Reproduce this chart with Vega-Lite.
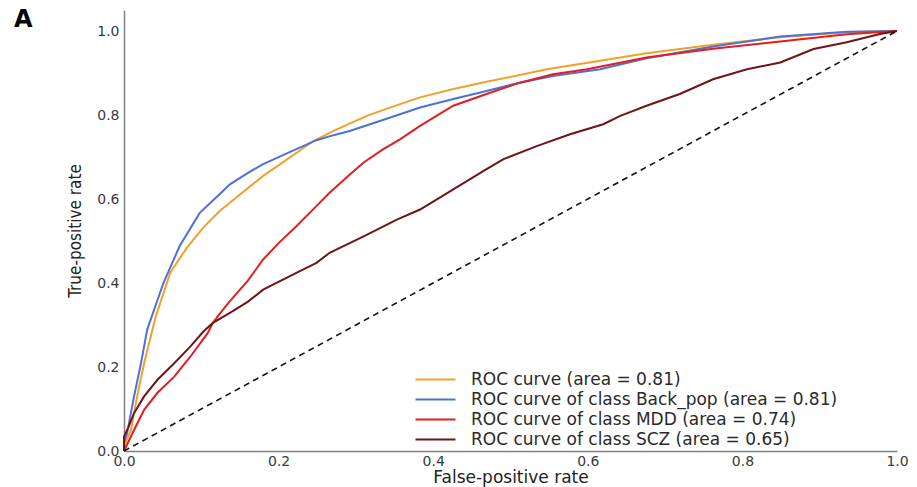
{
  "$schema": "https://vega.github.io/schema/vega-lite/v6.json",
  "width": 773,
  "height": 441,
  "autosize": {"type": "none"},
  "padding": {"left": 124, "top": 10, "right": 20, "bottom": 36},
  "background": "white",
  "title": {
    "text": "A",
    "anchor": "start",
    "frame": "group",
    "orient": "top",
    "offset": 0,
    "baseline": "top",
    "dx": -110,
    "dy": 22,
    "font": "DejaVu Sans",
    "fontSize": 24,
    "fontWeight": "bold",
    "color": "#000000"
  },
  "config": {
    "view": {"stroke": null},
    "axis": {
      "grid": false,
      "ticks": false,
      "tickSize": 0,
      "domainColor": "#808080",
      "domainWidth": 1.5,
      "labelFont": "DejaVu Sans",
      "labelFontSize": 14,
      "labelColor": "#3a3a3a",
      "labelFlush": false,
      "labelOverlap": false,
      "labelBound": false,
      "titleFontWeight": "normal",
      "titleColor": "#222222"
    }
  },
  "datasets": {
    "roc": [
      {"curve": "ROC curve (area = 0.81)", "fpr": 0.0, "tpr": 0.0},
      {"curve": "ROC curve (area = 0.81)", "fpr": 0.002, "tpr": 0.02},
      {"curve": "ROC curve (area = 0.81)", "fpr": 0.009, "tpr": 0.05},
      {"curve": "ROC curve (area = 0.81)", "fpr": 0.017, "tpr": 0.13},
      {"curve": "ROC curve (area = 0.81)", "fpr": 0.026, "tpr": 0.209},
      {"curve": "ROC curve (area = 0.81)", "fpr": 0.041, "tpr": 0.32},
      {"curve": "ROC curve (area = 0.81)", "fpr": 0.06, "tpr": 0.425},
      {"curve": "ROC curve (area = 0.81)", "fpr": 0.081, "tpr": 0.483},
      {"curve": "ROC curve (area = 0.81)", "fpr": 0.103, "tpr": 0.533},
      {"curve": "ROC curve (area = 0.81)", "fpr": 0.124, "tpr": 0.572},
      {"curve": "ROC curve (area = 0.81)", "fpr": 0.137, "tpr": 0.591},
      {"curve": "ROC curve (area = 0.81)", "fpr": 0.146, "tpr": 0.605},
      {"curve": "ROC curve (area = 0.81)", "fpr": 0.18, "tpr": 0.655},
      {"curve": "ROC curve (area = 0.81)", "fpr": 0.228, "tpr": 0.716},
      {"curve": "ROC curve (area = 0.81)", "fpr": 0.245, "tpr": 0.738},
      {"curve": "ROC curve (area = 0.81)", "fpr": 0.271, "tpr": 0.762},
      {"curve": "ROC curve (area = 0.81)", "fpr": 0.314, "tpr": 0.798},
      {"curve": "ROC curve (area = 0.81)", "fpr": 0.357, "tpr": 0.826},
      {"curve": "ROC curve (area = 0.81)", "fpr": 0.383, "tpr": 0.842},
      {"curve": "ROC curve (area = 0.81)", "fpr": 0.426, "tpr": 0.862},
      {"curve": "ROC curve (area = 0.81)", "fpr": 0.469, "tpr": 0.879},
      {"curve": "ROC curve (area = 0.81)", "fpr": 0.512, "tpr": 0.895},
      {"curve": "ROC curve (area = 0.81)", "fpr": 0.547, "tpr": 0.909},
      {"curve": "ROC curve (area = 0.81)", "fpr": 0.616, "tpr": 0.929},
      {"curve": "ROC curve (area = 0.81)", "fpr": 0.676, "tpr": 0.947},
      {"curve": "ROC curve (area = 0.81)", "fpr": 0.762, "tpr": 0.967},
      {"curve": "ROC curve (area = 0.81)", "fpr": 0.849, "tpr": 0.985},
      {"curve": "ROC curve (area = 0.81)", "fpr": 0.935, "tpr": 0.997},
      {"curve": "ROC curve (area = 0.81)", "fpr": 1.0, "tpr": 1.0},

      {"curve": "ROC curve of class Back_pop (area = 0.81)", "fpr": 0.0, "tpr": 0.0},
      {"curve": "ROC curve of class Back_pop (area = 0.81)", "fpr": 0.0, "tpr": 0.02},
      {"curve": "ROC curve of class Back_pop (area = 0.81)", "fpr": 0.004, "tpr": 0.042},
      {"curve": "ROC curve of class Back_pop (area = 0.81)", "fpr": 0.013, "tpr": 0.13},
      {"curve": "ROC curve of class Back_pop (area = 0.81)", "fpr": 0.022, "tpr": 0.209},
      {"curve": "ROC curve of class Back_pop (area = 0.81)", "fpr": 0.03, "tpr": 0.289},
      {"curve": "ROC curve of class Back_pop (area = 0.81)", "fpr": 0.051, "tpr": 0.4},
      {"curve": "ROC curve of class Back_pop (area = 0.81)", "fpr": 0.072, "tpr": 0.488},
      {"curve": "ROC curve of class Back_pop (area = 0.81)", "fpr": 0.098, "tpr": 0.567},
      {"curve": "ROC curve of class Back_pop (area = 0.81)", "fpr": 0.124, "tpr": 0.612},
      {"curve": "ROC curve of class Back_pop (area = 0.81)", "fpr": 0.137, "tpr": 0.635},
      {"curve": "ROC curve of class Back_pop (area = 0.81)", "fpr": 0.163, "tpr": 0.665},
      {"curve": "ROC curve of class Back_pop (area = 0.81)", "fpr": 0.18, "tpr": 0.683},
      {"curve": "ROC curve of class Back_pop (area = 0.81)", "fpr": 0.215, "tpr": 0.712},
      {"curve": "ROC curve of class Back_pop (area = 0.81)", "fpr": 0.249, "tpr": 0.74},
      {"curve": "ROC curve of class Back_pop (area = 0.81)", "fpr": 0.271, "tpr": 0.752},
      {"curve": "ROC curve of class Back_pop (area = 0.81)", "fpr": 0.292, "tpr": 0.762},
      {"curve": "ROC curve of class Back_pop (area = 0.81)", "fpr": 0.33, "tpr": 0.785},
      {"curve": "ROC curve of class Back_pop (area = 0.81)", "fpr": 0.383, "tpr": 0.818},
      {"curve": "ROC curve of class Back_pop (area = 0.81)", "fpr": 0.426, "tpr": 0.838},
      {"curve": "ROC curve of class Back_pop (area = 0.81)", "fpr": 0.469, "tpr": 0.857},
      {"curve": "ROC curve of class Back_pop (area = 0.81)", "fpr": 0.512, "tpr": 0.877},
      {"curve": "ROC curve of class Back_pop (area = 0.81)", "fpr": 0.555, "tpr": 0.893},
      {"curve": "ROC curve of class Back_pop (area = 0.81)", "fpr": 0.616, "tpr": 0.909},
      {"curve": "ROC curve of class Back_pop (area = 0.81)", "fpr": 0.676, "tpr": 0.935},
      {"curve": "ROC curve of class Back_pop (area = 0.81)", "fpr": 0.762, "tpr": 0.963},
      {"curve": "ROC curve of class Back_pop (area = 0.81)", "fpr": 0.849, "tpr": 0.987},
      {"curve": "ROC curve of class Back_pop (area = 0.81)", "fpr": 0.935, "tpr": 0.998},
      {"curve": "ROC curve of class Back_pop (area = 0.81)", "fpr": 1.0, "tpr": 1.0},

      {"curve": "ROC curve of class MDD (area = 0.74)", "fpr": 0.0, "tpr": 0.0},
      {"curve": "ROC curve of class MDD (area = 0.74)", "fpr": 0.013, "tpr": 0.05},
      {"curve": "ROC curve of class MDD (area = 0.74)", "fpr": 0.026, "tpr": 0.098},
      {"curve": "ROC curve of class MDD (area = 0.74)", "fpr": 0.043, "tpr": 0.138},
      {"curve": "ROC curve of class MDD (area = 0.74)", "fpr": 0.065, "tpr": 0.177},
      {"curve": "ROC curve of class MDD (area = 0.74)", "fpr": 0.086, "tpr": 0.225},
      {"curve": "ROC curve of class MDD (area = 0.74)", "fpr": 0.108, "tpr": 0.28},
      {"curve": "ROC curve of class MDD (area = 0.74)", "fpr": 0.115, "tpr": 0.305},
      {"curve": "ROC curve of class MDD (area = 0.74)", "fpr": 0.124, "tpr": 0.327},
      {"curve": "ROC curve of class MDD (area = 0.74)", "fpr": 0.137, "tpr": 0.357},
      {"curve": "ROC curve of class MDD (area = 0.74)", "fpr": 0.16, "tpr": 0.405},
      {"curve": "ROC curve of class MDD (area = 0.74)", "fpr": 0.18, "tpr": 0.456},
      {"curve": "ROC curve of class MDD (area = 0.74)", "fpr": 0.2, "tpr": 0.495},
      {"curve": "ROC curve of class MDD (area = 0.74)", "fpr": 0.223, "tpr": 0.535},
      {"curve": "ROC curve of class MDD (area = 0.74)", "fpr": 0.245, "tpr": 0.576},
      {"curve": "ROC curve of class MDD (area = 0.74)", "fpr": 0.266, "tpr": 0.615},
      {"curve": "ROC curve of class MDD (area = 0.74)", "fpr": 0.29, "tpr": 0.655},
      {"curve": "ROC curve of class MDD (area = 0.74)", "fpr": 0.31, "tpr": 0.687},
      {"curve": "ROC curve of class MDD (area = 0.74)", "fpr": 0.335, "tpr": 0.718},
      {"curve": "ROC curve of class MDD (area = 0.74)", "fpr": 0.357, "tpr": 0.742},
      {"curve": "ROC curve of class MDD (area = 0.74)", "fpr": 0.383, "tpr": 0.774},
      {"curve": "ROC curve of class MDD (area = 0.74)", "fpr": 0.426, "tpr": 0.822},
      {"curve": "ROC curve of class MDD (area = 0.74)", "fpr": 0.469, "tpr": 0.85},
      {"curve": "ROC curve of class MDD (area = 0.74)", "fpr": 0.512, "tpr": 0.877},
      {"curve": "ROC curve of class MDD (area = 0.74)", "fpr": 0.555, "tpr": 0.897},
      {"curve": "ROC curve of class MDD (area = 0.74)", "fpr": 0.599, "tpr": 0.909},
      {"curve": "ROC curve of class MDD (area = 0.74)", "fpr": 0.676, "tpr": 0.937},
      {"curve": "ROC curve of class MDD (area = 0.74)", "fpr": 0.762, "tpr": 0.958},
      {"curve": "ROC curve of class MDD (area = 0.74)", "fpr": 0.849, "tpr": 0.975},
      {"curve": "ROC curve of class MDD (area = 0.74)", "fpr": 0.935, "tpr": 0.992},
      {"curve": "ROC curve of class MDD (area = 0.74)", "fpr": 1.0, "tpr": 1.0},

      {"curve": "ROC curve of class SCZ (area = 0.65)", "fpr": 0.0, "tpr": 0.0},
      {"curve": "ROC curve of class SCZ (area = 0.65)", "fpr": 0.0, "tpr": 0.034},
      {"curve": "ROC curve of class SCZ (area = 0.65)", "fpr": 0.006, "tpr": 0.058},
      {"curve": "ROC curve of class SCZ (area = 0.65)", "fpr": 0.013, "tpr": 0.09},
      {"curve": "ROC curve of class SCZ (area = 0.65)", "fpr": 0.026, "tpr": 0.13},
      {"curve": "ROC curve of class SCZ (area = 0.65)", "fpr": 0.043, "tpr": 0.169},
      {"curve": "ROC curve of class SCZ (area = 0.65)", "fpr": 0.065, "tpr": 0.209},
      {"curve": "ROC curve of class SCZ (area = 0.65)", "fpr": 0.086, "tpr": 0.249},
      {"curve": "ROC curve of class SCZ (area = 0.65)", "fpr": 0.103, "tpr": 0.285},
      {"curve": "ROC curve of class SCZ (area = 0.65)", "fpr": 0.115, "tpr": 0.305},
      {"curve": "ROC curve of class SCZ (area = 0.65)", "fpr": 0.137, "tpr": 0.329},
      {"curve": "ROC curve of class SCZ (area = 0.65)", "fpr": 0.16, "tpr": 0.355},
      {"curve": "ROC curve of class SCZ (area = 0.65)", "fpr": 0.18, "tpr": 0.384},
      {"curve": "ROC curve of class SCZ (area = 0.65)", "fpr": 0.223, "tpr": 0.424},
      {"curve": "ROC curve of class SCZ (area = 0.65)", "fpr": 0.249, "tpr": 0.448},
      {"curve": "ROC curve of class SCZ (area = 0.65)", "fpr": 0.266, "tpr": 0.472},
      {"curve": "ROC curve of class SCZ (area = 0.65)", "fpr": 0.31, "tpr": 0.511},
      {"curve": "ROC curve of class SCZ (area = 0.65)", "fpr": 0.353, "tpr": 0.551},
      {"curve": "ROC curve of class SCZ (area = 0.65)", "fpr": 0.383, "tpr": 0.575},
      {"curve": "ROC curve of class SCZ (area = 0.65)", "fpr": 0.426, "tpr": 0.623},
      {"curve": "ROC curve of class SCZ (area = 0.65)", "fpr": 0.469, "tpr": 0.671},
      {"curve": "ROC curve of class SCZ (area = 0.65)", "fpr": 0.491, "tpr": 0.695},
      {"curve": "ROC curve of class SCZ (area = 0.65)", "fpr": 0.534, "tpr": 0.726},
      {"curve": "ROC curve of class SCZ (area = 0.65)", "fpr": 0.577, "tpr": 0.754},
      {"curve": "ROC curve of class SCZ (area = 0.65)", "fpr": 0.62, "tpr": 0.778},
      {"curve": "ROC curve of class SCZ (area = 0.65)", "fpr": 0.642, "tpr": 0.798},
      {"curve": "ROC curve of class SCZ (area = 0.65)", "fpr": 0.676, "tpr": 0.822},
      {"curve": "ROC curve of class SCZ (area = 0.65)", "fpr": 0.719, "tpr": 0.85},
      {"curve": "ROC curve of class SCZ (area = 0.65)", "fpr": 0.762, "tpr": 0.885},
      {"curve": "ROC curve of class SCZ (area = 0.65)", "fpr": 0.806, "tpr": 0.909},
      {"curve": "ROC curve of class SCZ (area = 0.65)", "fpr": 0.849, "tpr": 0.925},
      {"curve": "ROC curve of class SCZ (area = 0.65)", "fpr": 0.892, "tpr": 0.957},
      {"curve": "ROC curve of class SCZ (area = 0.65)", "fpr": 0.935, "tpr": 0.973},
      {"curve": "ROC curve of class SCZ (area = 0.65)", "fpr": 0.978, "tpr": 0.993},
      {"curve": "ROC curve of class SCZ (area = 0.65)", "fpr": 1.0, "tpr": 1.0}
    ],
    "chance": [
      {"fpr": 0.0, "tpr": 0.0},
      {"fpr": 1.0, "tpr": 1.0}
    ]
  },
  "encoding": {
    "x": {
      "field": "fpr",
      "type": "quantitative",
      "scale": {"domain": [0, 1], "nice": false, "zero": false},
      "axis": {
        "title": "False-positive rate",
        "values": [0, 0.2, 0.4, 0.6, 0.8, 1.0],
        "format": ".1f",
        "labelPadding": 3,
        "titleFont": "DejaVu Sans",
        "titleFontSize": 17,
        "titlePadding": 1
      }
    },
    "y": {
      "field": "tpr",
      "type": "quantitative",
      "scale": {"domain": [0, 1.05], "nice": false, "zero": false},
      "axis": {
        "title": "True-positive rate",
        "values": [0, 0.2, 0.4, 0.6, 0.8, 1.0],
        "format": ".1f",
        "labelPadding": 5,
        "titleFont": "Liberation Sans Narrow, DejaVu Sans Condensed, sans-serif",
        "titleFontSize": 17,
        "titlePadding": 12
      }
    }
  },
  "layer": [
    {
      "data": {"name": "roc"},
      "mark": {"type": "line", "strokeWidth": 2, "interpolate": "linear"},
      "encoding": {
        "order": {"field": "tpr", "type": "quantitative"},
        "color": {
          "field": "curve",
          "type": "nominal",
          "scale": {
            "domain": [
              "ROC curve (area = 0.81)",
              "ROC curve of class Back_pop (area = 0.81)",
              "ROC curve of class MDD (area = 0.74)",
              "ROC curve of class SCZ (area = 0.65)"
            ],
            "range": ["#f3a02a", "#4c72d9", "#e31e1e", "#701418"]
          },
          "legend": {
            "title": null,
            "orient": "none",
            "legendX": 303,
            "legendY": 361,
            "padding": 0,
            "symbolType": "M-4,0H4",
            "symbolSize": 100,
            "symbolStrokeWidth": 2,
            "labelFont": "DejaVu Sans",
            "labelFontSize": 17,
            "labelColor": "#2a2a2a",
            "labelOffset": 27,
            "labelLimit": 600,
            "rowPadding": 2
          }
        }
      }
    },
    {
      "data": {"name": "chance"},
      "mark": {"type": "line", "color": "#111111", "strokeWidth": 1.6, "strokeDash": [6, 4.5]},
      "encoding": {}
    }
  ]
}
